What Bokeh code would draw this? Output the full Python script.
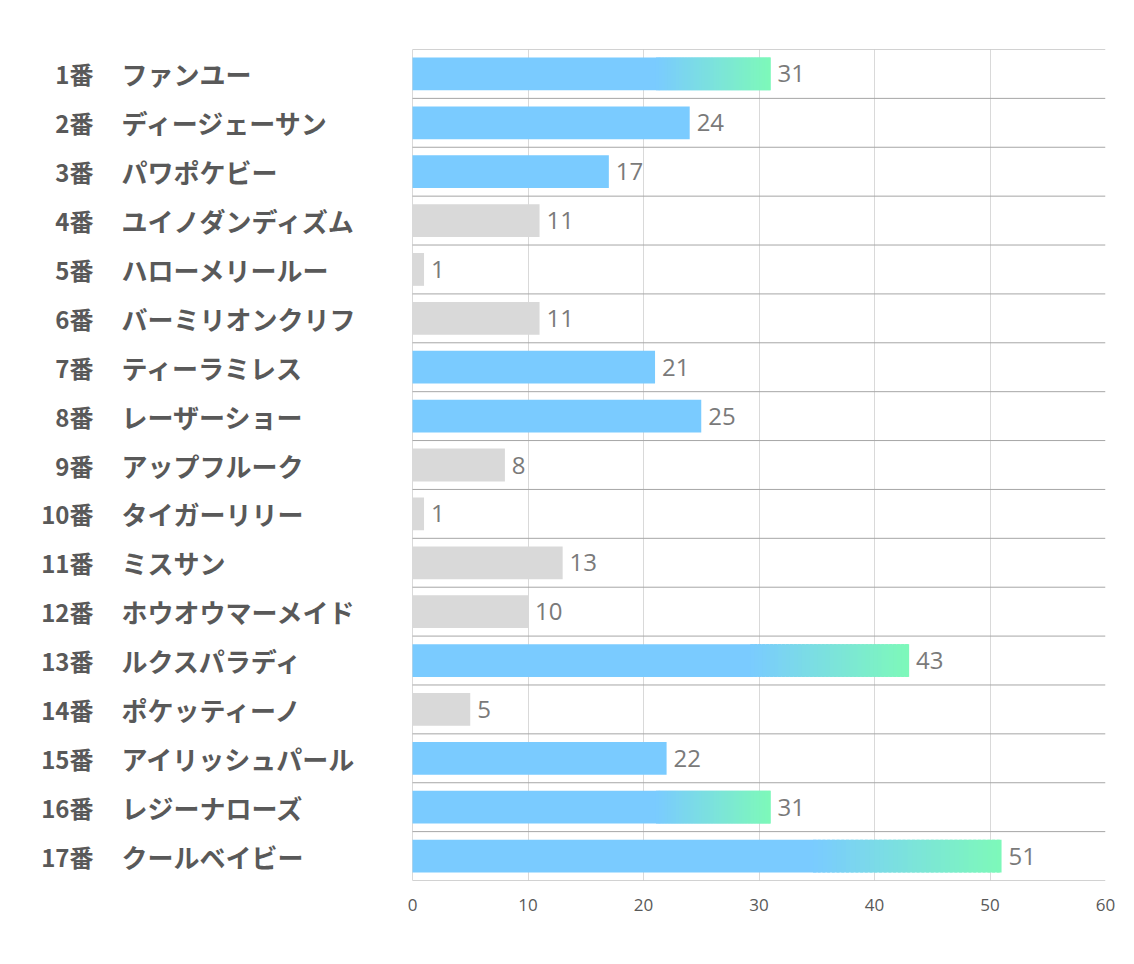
import numpy as np
from bokeh.plotting import figure
from bokeh.models import ColumnDataSource, FixedTicker
from bokeh.core.properties import value
from bokeh.embed import file_html
from bokeh.resources import INLINE

# ---- data ----
numbers = ["1番", "2番", "3番", "4番", "5番", "6番", "7番", "8番", "9番", "10番",
           "11番", "12番", "13番", "14番", "15番", "16番", "17番"]
names = ["ファンユー", "ディージェーサン", "パワポケビー", "ユイノダンディズム", "ハローメリールー",
         "バーミリオンクリフ", "ティーラミレス", "レーザーショー", "アップフルーク", "タイガーリリー",
         "ミスサン", "ホウオウマーメイド", "ルクスパラディ", "ポケッティーノ", "アイリッシュパール",
         "レジーナローズ", "クールベイビー"]
votes = [31, 24, 17, 11, 1, 11, 21, 25, 8, 1, 13, 10, 43, 5, 22, 31, 51]
x_ticks = [0, 10, 20, 30, 40, 50, 60]

# ---- style ----
BLUE = (122, 203, 255)
GREEN = (125, 249, 185)
GREY = "#d9d9d9"
HIGHLIGHT_MIN = 15
GRADIENT_MIN = 30
GRAD_START = 0.68
BAR_H = 0.67
TEXT_COL = "#595959"

W, H = 1134, 964
frame_left_px, frame_right_px = 412, 1105
ppu = (frame_right_px - frame_left_px) / 60.0
x_start = -frame_left_px / ppu

n = len(votes)
rows = list(range(1, n + 1))

p = figure(width=W, height=H, output_backend="svg", toolbar_location=None,
           x_range=(x_start, 60), y_range=(n + 0.5, 0.5),
           y_axis_location=None, min_border_left=0, min_border_right=W - frame_right_px,
           min_border_top=49, min_border_bottom=84)
p.outline_line_color = None
p.background_fill_color = "white"
p.border_fill_color = "white"
p.ygrid.visible = False
p.xgrid.ticker = FixedTicker(ticks=x_ticks)
p.xgrid.grid_line_color = "#d9d9d9"
p.xaxis.ticker = FixedTicker(ticks=x_ticks)
p.xaxis.axis_line_color = None
p.xaxis.major_tick_line_color = None
p.xaxis.minor_tick_line_color = None
p.xaxis.major_label_text_font = "Open Sans"
p.xaxis.major_label_text_font_size = "17px"
p.xaxis.major_label_text_color = TEXT_COL
p.xaxis.major_label_standoff = 12

# row separators
sep_y = [r + 0.5 for r in range(0, n + 1)]
p.segment(x0=[x_ticks[0]] * len(sep_y), x1=[x_ticks[-1]] * len(sep_y), y0=sep_y, y1=sep_y,
          line_color="#a6a6a6", line_width=1)

# bars
solid_y, solid_r, solid_c = [], [], []
gy, gl, gr, gc = [], [], [], []
NSEG = 40
for r, v in zip(rows, votes):
    if v >= GRADIENT_MIN:
        solid_y.append(r); solid_r.append(v * GRAD_START + 0.3); solid_c.append("#%02x%02x%02x" % BLUE)
        for k in range(NSEG):
            f0 = GRAD_START + (1 - GRAD_START) * k / NSEG
            f1 = GRAD_START + (1 - GRAD_START) * (k + 1) / NSEG
            t = (k + 0.5) / NSEG
            c = tuple(int(round(BLUE[i] + (GREEN[i] - BLUE[i]) * t)) for i in range(3))
            right = v * f1 + (0.25 if k < NSEG - 1 else 0)
            gy.append(r); gl.append(v * f0); gr.append(right); gc.append("#%02x%02x%02x" % c)
    else:
        solid_y.append(r); solid_r.append(v)
        solid_c.append("#%02x%02x%02x" % BLUE if v >= HIGHLIGHT_MIN else GREY)

p.hbar(y=solid_y, left=0, right=solid_r, height=BAR_H, fill_color=solid_c, line_color=None, fill_alpha=1.0)
p.hbar(y=gy, left=gl, right=gr, height=BAR_H, fill_color=gc, line_color=None, fill_alpha=1.0)

# value labels
src = ColumnDataSource(dict(y=rows, x=[v + 0.6 for v in votes], t=[str(v) for v in votes]))
p.text(x="x", y="y", text="t", source=src, text_align="left", text_baseline="middle",
       text_font=value("Open Sans"), text_font_size="24px", text_color="#7a7a7a")

# row labels
lab = ColumnDataSource(dict(y=rows, xn=[(93 - frame_left_px) / ppu] * n,
                            xm=[(121 - frame_left_px) / ppu] * n, num=numbers, nm=names))
p.text(x="xn", y="y", text="num", source=lab, text_align="right", text_baseline="middle",
       text_font=value("Noto Sans CJK JP"), text_font_style="bold", text_font_size="24px",
       text_color=TEXT_COL)
p.text(x="xm", y="y", text="nm", source=lab, text_align="left", text_baseline="middle",
       text_font=value("Noto Sans CJK JP"), text_font_style="bold", text_font_size="26px",
       text_color=TEXT_COL)

open("out.html", "w").write(file_html(p, INLINE))
